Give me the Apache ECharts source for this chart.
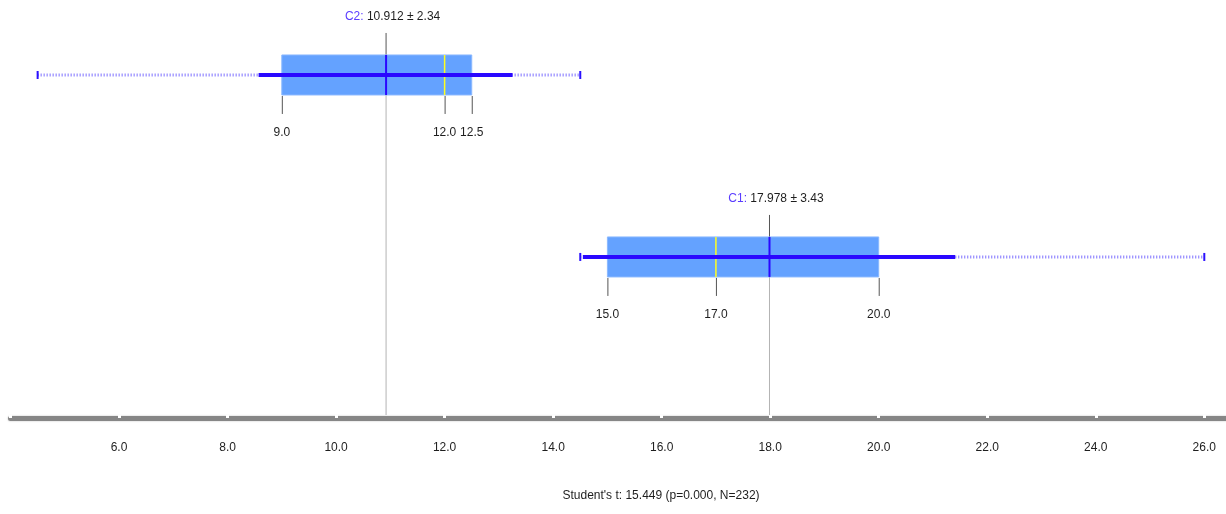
<!DOCTYPE html>
<html>
<head>
<meta charset="utf-8">
<script src="https://cdn.jsdelivr.net/npm/echarts@6/dist/echarts.min.js"></script>
<style>
  html, body { margin: 0; padding: 0; background: #fff; }
  #chart { width: 1226px; height: 514px; }
</style>
</head>
<body>
<div id="chart"></div>
<script>
// ---- data ----
const groups = ['C1', 'C2'];
const minVals = [14.5, 4.5];
const q1Vals = [15.0, 9.0];
const medianVals = [17.0, 12.0];
const q3Vals = [20.0, 12.5];
const maxVals = [26.0, 14.5];
const meanVals = [17.978, 10.912];
const sdVals = [3.43, 2.34];
const axisMin = 4;
const axisMax = 26.4;
const axisInterval = 2;
const statText = "Student's t: 15.449 (p=0.000, N=232)";

// ---- styling ----
const FONT = "'Liberation Sans', Arial, sans-serif";
const FS = 12;
const Y_MIN = -0.885, Y_MAX = 1.412;

const seriesData = groups.map((g, i) => [i, minVals[i], q1Vals[i], medianVals[i], q3Vals[i], maxVals[i], meanVals[i], sdVals[i]]);

function renderItem(params, api) {
  const idx = api.value(0);
  const vMin = api.value(1), q1 = api.value(2), med = api.value(3), q3 = api.value(4), vMax = api.value(5);
  const mean = api.value(6), sd = api.value(7);
  const c = (x) => api.coord([x, idx]);
  const yc = c(q1)[1];
  const axisY = api.coord([mean, Y_MIN])[1];
  const halfH = 20;
  const pMin = c(vMin)[0], pQ1 = c(q1)[0], pMed = c(med)[0], pQ3 = c(q3)[0], pMax = c(vMax)[0];
  const pMean = c(mean)[0], pLo = c(mean - sd)[0], pHi = c(mean + sd)[0];
  const children = [];
  // grey mean line from box bottom to axis
  children.push({ type: 'line', shape: { x1: pMean + 0.5, y1: yc + halfH, x2: pMean + 0.5, y2: axisY - 3 },
    style: { stroke: '#b4b4b4', lineWidth: 1 } });
  // dark tick above box
  children.push({ type: 'line', shape: { x1: pMean + 0.5, y1: yc - halfH - 22, x2: pMean + 0.5, y2: yc - halfH },
    style: { stroke: '#555', lineWidth: 1 } });
  // dotted whiskers (min..max)
  children.push({ type: 'line', shape: { x1: pMin, y1: yc, x2: pMax, y2: yc },
    style: { stroke: '#7d70ff', lineWidth: 3, lineDash: [1, 2] } });
  // end caps
  [pMin, pMax].forEach(p => children.push({ type: 'line', shape: { x1: p, y1: yc - 4, x2: p, y2: yc + 4 },
    style: { stroke: '#2a10ff', lineWidth: 2 } }));
  // box
  children.push({ type: 'rect', shape: { x: pQ1, y: yc - halfH, width: pQ3 - pQ1, height: 2 * halfH },
    style: { fill: '#64a2ff', stroke: '#8ab8ff', lineWidth: 1 } });
  // median (yellow)
  children.push({ type: 'line', shape: { x1: pMed, y1: yc - halfH, x2: pMed, y2: yc + halfH },
    style: { stroke: '#ffff20', lineWidth: 1.5 } });
  // mean +- sd thick line
  children.push({ type: 'line', shape: { x1: pLo, y1: yc, x2: pHi, y2: yc },
    style: { stroke: '#2a08ff', lineWidth: 4 } });
  // mean tick inside box
  children.push({ type: 'line', shape: { x1: pMean + 0.5, y1: yc - halfH, x2: pMean + 0.5, y2: yc + halfH },
    style: { stroke: '#2a08ff', lineWidth: 2 } });
  // quartile ticks + labels
  [[pQ1, q1], [pMed, med], [pQ3, q3]].forEach(([p, v]) => {
    children.push({ type: 'line', shape: { x1: p + 0.5, y1: yc + halfH + 1, x2: p + 0.5, y2: yc + halfH + 19 },
      style: { stroke: '#555', lineWidth: 1 } });
    children.push({ type: 'text', style: { text: v.toFixed(1), x: p, y: yc + halfH + 38, align: 'center',
      verticalAlign: 'middle', fill: '#1e1e1e', font: FS + 'px ' + FONT } });
  });
  // top label
  children.push({ type: 'text', style: {
    text: '{a|' + groups[idx] + ': }{b|' + mean.toFixed(3) + ' ± ' + sd.toFixed(2) + '}',
    x: pMean + 7, y: yc - halfH - 38, align: 'center', verticalAlign: 'middle',
    rich: { a: { fill: '#5a3cff', font: FS + 'px ' + FONT }, b: { fill: '#1e1e1e', font: FS + 'px ' + FONT } },
    font: FS + 'px ' + FONT } });
  return { type: 'group', children };
}

const chart = echarts.init(document.getElementById('chart'));
chart.setOption({
  animation: false,
  backgroundColor: '#fff',
  graphic: [{ type: 'text', x: 661, y: 496,
    style: { text: statText, align: 'center', verticalAlign: 'middle', fill: '#1e1e1e', font: FS + 'px ' + FONT } }],
  grid: { left: 10.5, right: 0, top: 0, bottom: 96 },
  xAxis: {
    type: 'value', min: axisMin, max: axisMax, interval: axisInterval,
    splitLine: { show: false },
    axisLine: { onZero: false, lineStyle: { color: '#868686', width: 5, shadowColor: '#bdbdbd', shadowBlur: 2 } },
    axisTick: { show: true, inside: true, length: 3, lineStyle: { color: '#fff', width: 3 } },
    axisLabel: { margin: 24, fontFamily: FONT, fontSize: FS, color: '#1e1e1e',
      formatter: v => (v <= axisMin ? '' : v.toFixed(1)) },
    showMaxLabel: false
  },
  yAxis: { type: 'value', min: Y_MIN, max: Y_MAX, show: false },
  series: [{ type: 'custom', renderItem, data: seriesData, clip: false }]
});
</script>
</body>
</html>
